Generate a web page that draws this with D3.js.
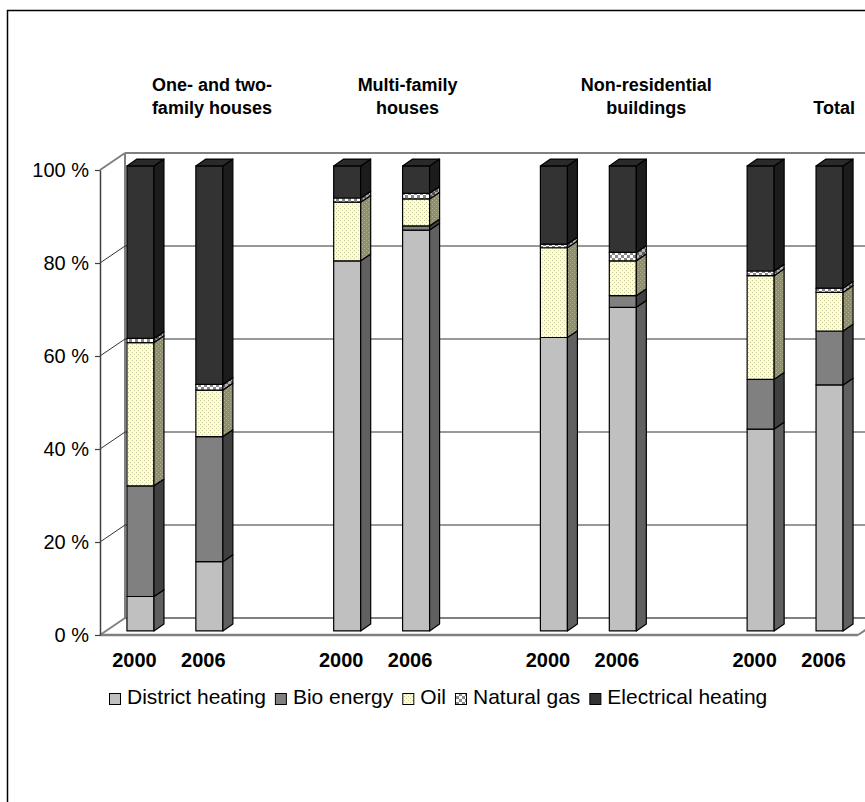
<!DOCTYPE html>
<html>
<head>
<meta charset="utf-8">
<script src="https://cdn.jsdelivr.net/npm/d3@7"></script>
<style>
  body { margin: 0; background: #fff; }
  svg { display: block; }
  text { font-family: "Liberation Sans", Arial, sans-serif; fill: #000; }
</style>
</head>
<body>
<svg id="chart" width="865" height="802"></svg>
<script>
// ---- data -------------------------------------------------------------
const groupTitles = [
  ["One- and two-", "family houses"],
  ["Multi-family", "houses"],
  ["Non-residential", "buildings"],
  ["Total"]
];
const years = ["2000", "2006"];
const seriesNames = ["District heating", "Bio energy", "Oil", "Natural gas", "Electrical heating"];

// shares in %, one value per column (group × year)
const districtHeating   = [7.4, 14.9, 79.6, 86.2, 63.1, 69.6, 43.4, 52.9];
const bioEnergy         = [23.8, 26.9, 0.0, 0.9, 0.0, 2.5, 10.7, 11.6];
const oil               = [30.8, 10.0, 12.6, 5.8, 19.3, 7.5, 22.3, 8.3];
const naturalGas        = [0.9, 1.2, 0.9, 1.2, 0.8, 1.8, 1.0, 0.9];
const electricalHeating = [37.1, 47.0, 6.9, 5.9, 16.8, 18.6, 22.6, 26.3];

const yTicks = [0, 20, 40, 60, 80, 100];

// ---- layout -----------------------------------------------------------
const W = 865, H = 802;
const plot = { left: 100, right: 858, top: 170, bottom: 635 };
const depth = { dx: 25, dy: -17 };          // floor/wall depth
const barFront = 0.24, barBack = 0.64;      // bar position inside the depth
const titleShift = [43, 32, 64, 45];        // title boxes relative to group centre

// columns: two years per group, an empty slot between groups
const columns = [];
const slotIds = [];
groupTitles.forEach((t, gi) => {
  years.forEach(yr => {
    const id = gi + "-" + yr;
    columns.push({ id, group: gi, year: yr });
    slotIds.push(id);
  });
  if (gi < groupTitles.length - 1) slotIds.push(gi + "-gap");
});

const seriesArrays = [districtHeating, bioEnergy, oil, naturalGas, electricalHeating];
const keys = seriesNames;
const rows = columns.map((c, i) => {
  const r = { id: c.id };
  keys.forEach((k, s) => r[k] = seriesArrays[s][i]);
  return r;
});
const stacked = d3.stack().keys(keys)(rows);

const x = d3.scaleBand().domain(slotIds).range([plot.left, plot.right])
  .paddingInner(0.608).paddingOuter(0.304);
const y = d3.scaleLinear().domain([0, 100]).range([plot.bottom, plot.top]);

const svg = d3.select("#chart");
const defs = svg.append("defs");

// fill patterns
function dotPattern(id, bg, dot) {
  const p = defs.append("pattern").attr("id", id).attr("patternUnits", "userSpaceOnUse")
    .attr("width", 4).attr("height", 4);
  p.append("rect").attr("width", 4).attr("height", 4).attr("fill", bg);
  p.append("rect").attr("x", 0).attr("y", 0).attr("width", 1).attr("height", 1).attr("fill", dot);
  p.append("rect").attr("x", 2).attr("y", 2).attr("width", 1).attr("height", 1).attr("fill", dot);
}
function checkPattern(id, a, b) {
  const p = defs.append("pattern").attr("id", id).attr("patternUnits", "userSpaceOnUse")
    .attr("width", 6).attr("height", 6);
  p.append("rect").attr("width", 6).attr("height", 6).attr("fill", a);
  p.append("rect").attr("width", 3).attr("height", 3).attr("fill", b);
  p.append("rect").attr("x", 3).attr("y", 3).attr("width", 3).attr("height", 3).attr("fill", b);
}
dotPattern("oilFront", "#FFFFCC", "#C9C9A6");
dotPattern("oilSide", "#8E8E70", "#B4B494");
checkPattern("gasFront", "#FFFFFF", "#8A8A8A");
checkPattern("gasSide", "#B0B0B0", "#5A5A5A");

const faceStyle = {
  "District heating":   { front: "#C0C0C0", side: "#606060", top: "#D8D8D8" },
  "Bio energy":         { front: "#808080", side: "#404040", top: "#A0A0A0" },
  "Oil":                { front: "url(#oilFront)", side: "url(#oilSide)", top: "#FFFFE0" },
  "Natural gas":        { front: "url(#gasFront)", side: "url(#gasSide)", top: "#DDDDDD" },
  "Electrical heating": { front: "#333333", side: "#1C1C1C", top: "#2A2A2A" }
};

// ---- outer frame ------------------------------------------------------
svg.append("path").attr("d", `M7.5,${H} V10.5 H${W}`)
  .attr("fill", "none").attr("stroke", "#000").attr("stroke-width", 1.5);

// ---- walls and gridlines ---------------------------------------------
const walls = svg.append("g");
const bx = plot.left + depth.dx;
// left wall back edge
walls.append("line").attr("x1", bx).attr("x2", bx)
  .attr("y1", y(100) + depth.dy).attr("y2", y(0) + depth.dy)
  .attr("stroke", "#808080").attr("stroke-width", 2);
yTicks.forEach(t => {
  const edge = (t === 0 || t === 100);
  const col = edge ? "#808080" : "#333";
  const sw = edge ? 2 : 1;
  walls.append("line")
    .attr("x1", plot.left).attr("y1", y(t))
    .attr("x2", bx).attr("y2", y(t) + depth.dy)
    .attr("stroke", col).attr("stroke-width", sw);
  walls.append("line")
    .attr("x1", bx).attr("y1", y(t) + depth.dy)
    .attr("x2", plot.right + depth.dx).attr("y2", y(t) + depth.dy)
    .attr("stroke", col).attr("stroke-width", sw);
});
// floor front and right edges
walls.append("line").attr("x1", plot.left).attr("x2", plot.right)
  .attr("y1", y(0)).attr("y2", y(0)).attr("stroke", "#808080").attr("stroke-width", 2.5);
walls.append("line").attr("x1", plot.right).attr("y1", y(0))
  .attr("x2", plot.right + depth.dx).attr("y2", y(0) + depth.dy)
  .attr("stroke", "#808080").attr("stroke-width", 2);

// ---- bars -------------------------------------------------------------
const fdx = depth.dx * barFront, fdy = depth.dy * barFront;
const bdx = depth.dx * (barBack - barFront), bdy = depth.dy * (barBack - barFront);
const bw = x.bandwidth();
const barsG = svg.append("g").attr("stroke", "#000").attr("stroke-width", 1.2)
  .attr("stroke-linejoin", "round");

columns.forEach((c, ci) => {
  const x0 = x(c.id) + fdx;
  let topKey = null, topVal = 0;
  stacked.forEach(layer => {
    const [v0, v1] = layer[ci];
    if (v1 - v0 <= 0) return;
    const st = faceStyle[layer.key];
    const yt = y(v1) + fdy, yb = y(v0) + fdy;
    barsG.append("rect").attr("x", x0).attr("y", yt).attr("width", bw).attr("height", yb - yt)
      .attr("fill", st.front);
    barsG.append("path")
      .attr("d", `M${x0 + bw},${yt} L${x0 + bw + bdx},${yt + bdy} L${x0 + bw + bdx},${yb + bdy} L${x0 + bw},${yb} Z`)
      .attr("fill", st.side);
    topKey = layer.key; topVal = v1;
  });
  if (topKey) {
    const yt = y(topVal) + fdy;
    barsG.append("path")
      .attr("d", `M${x0},${yt} L${x0 + bw},${yt} L${x0 + bw + bdx},${yt + bdy} L${x0 + bdx},${yt + bdy} Z`)
      .attr("fill", faceStyle[topKey].top);
  }
});

// ---- y axis -----------------------------------------------------------
const yAxis = svg.append("g").attr("transform", `translate(${plot.left},0)`)
  .call(d3.axisLeft(y).tickValues(yTicks).tickFormat(d => d + " %")
    .tickSize(5).tickSizeOuter(0).tickPadding(6));
yAxis.select(".domain").attr("stroke", "#404040").attr("stroke-width", 1.5);
yAxis.selectAll(".tick line").attr("stroke", "#404040").attr("stroke-width", 1.2);
yAxis.selectAll(".tick text").attr("font-size", 20).attr("fill", "#000")
  .style("font-family", '"Liberation Sans", Arial, sans-serif');

// ---- category labels (centred on the front-plane slots) ---------------
svg.append("g").selectAll("text").data(columns).join("text")
  .attr("x", d => x(d.id) + bw / 2)
  .attr("y", 667)
  .attr("text-anchor", "middle")
  .attr("font-size", 20).attr("font-weight", "bold")
  .text(d => d.year);

// group titles
groupTitles.forEach((lines, gi) => {
  const a = x(gi + "-2000") + bw / 2, b = x(gi + "-2006") + bw / 2;
  const cx = (a + b) / 2 + titleShift[gi];
  const t = svg.append("text").attr("text-anchor", "middle")
    .attr("font-size", 18).attr("font-weight", "bold");
  const first = 114 - (lines.length - 1) * 23;
  lines.forEach((ln, li) => {
    t.append("tspan").attr("x", cx).attr("y", first + li * 23).text(ln);
  });
});

// ---- legend -----------------------------------------------------------
const legend = svg.append("g");
let lx = 109;
seriesNames.forEach(name => {
  const st = faceStyle[name];
  legend.append("rect").attr("x", lx + 0.5).attr("y", 693.5).attr("width", 11).attr("height", 11)
    .attr("fill", st.front).attr("stroke", "#000").attr("stroke-width", 1);
  const tx = legend.append("text").attr("x", lx + 18).attr("y", 704)
    .attr("font-size", 21).text(name);
  lx += 18 + tx.node().getComputedTextLength() + 9;
});
</script>
</body>
</html>
